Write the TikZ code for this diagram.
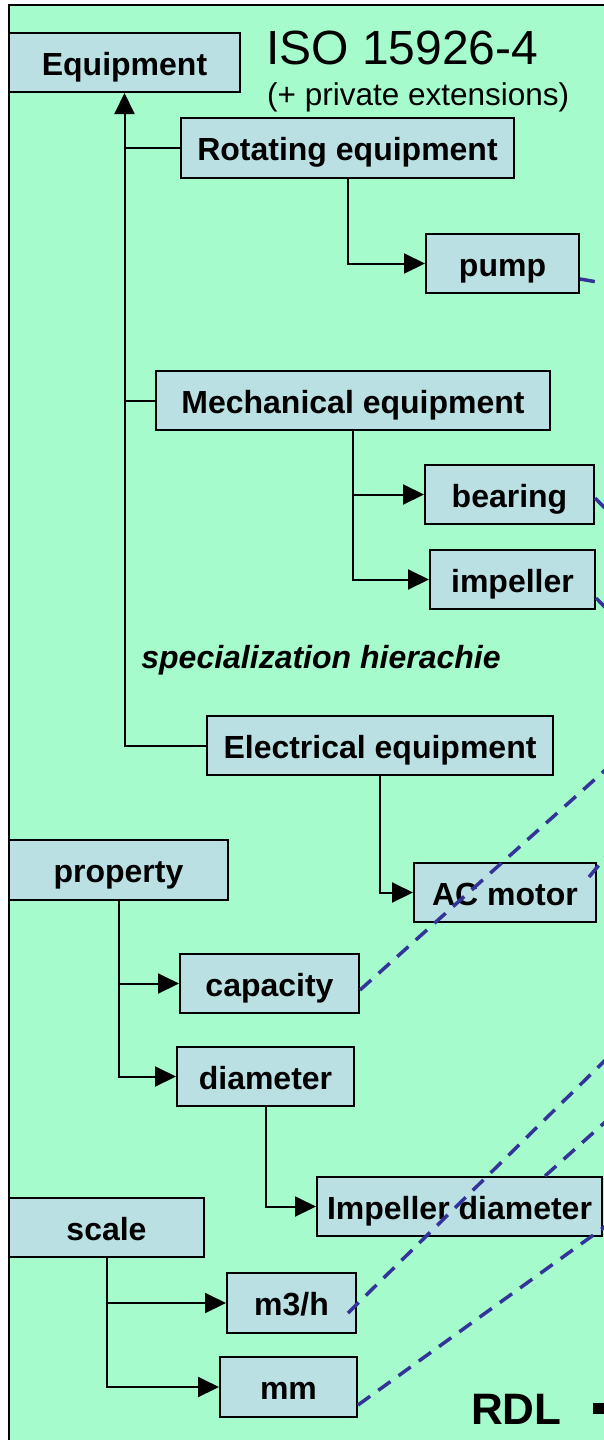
\documentclass[tikz,border=0pt]{standalone}
\usepackage{fontspec}
\setmainfont{Liberation Sans}
\usetikzlibrary{arrows.meta}
\definecolor{bggreen}{RGB}{165,251,204}
\definecolor{boxfill}{RGB}{187,224,227}
\definecolor{linkblue}{RGB}{51,51,153}
\tikzset{
  cls/.style={draw=black, line width=2pt, fill=boxfill, inner sep=0pt,
    text height=25pt, text depth=0pt,
    font=\fontsize{32}{36}\selectfont\bfseries},
  conn/.style={line width=2pt, -{Triangle[length=21pt,width=20pt]}},
  plainconn/.style={line width=2pt},
  link/.style={draw=linkblue, line width=3.5pt, dash pattern=on 15pt off 10pt},
  lbl/.style={inner sep=0pt, anchor=base west},
}
\begin{document}
\begin{tikzpicture}[x=1pt,y=-1pt]
\useasboundingbox (0,0) rectangle (604,1440);
\clip (0,0) rectangle (604,1440);
\draw[fill=bggreen, line width=2.5pt] (9,5) rectangle (640,1480);

% titles
\node[lbl, font=\fontsize{48}{54}\selectfont] (iso) at (266,64) {ISO 15926-4};
\node[lbl, font=\fontsize{31.5}{36}\selectfont] (ext) at (267,105) {(+ private extensions)};
\node[inner sep=0pt, anchor=base, font=\fontsize{32}{36}\selectfont\bfseries\itshape] (spec) at (321,668) {specialization hierachie};
\node[lbl, font=\fontsize{44}{50}\selectfont\bfseries] (rdl) at (471,1424) {RDL};

% classes
\node[cls, minimum width=231pt, minimum height=59pt] (equip) at (124.5,62.5) {Equipment};
\node[cls, minimum width=333pt, minimum height=60pt] (rot) at (347.5,148) {Rotating equipment};
\node[cls, minimum width=153pt, minimum height=59pt] (pump) at (502.5,263.5) {pump};
\node[cls, minimum width=394pt, minimum height=59pt] (mech) at (353,400.5) {Mechanical equipment};
\node[cls, minimum width=169pt, minimum height=59pt] (bearing) at (509.5,494.5) {bearing};
\node[cls, minimum width=165pt, minimum height=59pt] (impeller) at (512.5,579.5) {impeller};
\node[cls, minimum width=346pt, minimum height=59pt] (elec) at (380,745.5) {Electrical equipment};
\node[cls, minimum width=219pt, minimum height=60pt] (prop) at (118.5,870) {property};
\node[cls, minimum width=182pt, minimum height=59pt] (acmotor) at (505,892.5) {AC motor};
\node[cls, minimum width=179pt, minimum height=59pt] (capacity) at (269.5,983.5) {capacity};
\node[cls, minimum width=177pt, minimum height=59pt] (diameter) at (265.5,1076.5) {diameter};
\node[cls, minimum width=285pt, minimum height=59pt] (impdiam) at (459.5,1206.5) {Impeller diameter};
\node[cls, minimum width=195pt, minimum height=59pt] (scale) at (106.5,1227.5) {scale};
\node[cls, minimum width=129pt, minimum height=60pt] (m3h) at (291.5,1303) {m3/h};
\node[cls, minimum width=137pt, minimum height=60pt] (mm) at (288.5,1387) {mm};

% specialization connectors
\draw[conn] (elec.west) -| (equip.south);
\draw[plainconn] (rot.west) -- (rot.west -| equip.south);
\draw[plainconn] (mech.west) -- (mech.west -| equip.south);
\draw[conn] (rot.south) |- (pump.west);
\draw[conn] (mech.south) |- (bearing.west);
\draw[conn] (mech.south) |- (impeller.west);
\draw[conn] (elec.south) |- (acmotor.west);
\draw[conn] (prop.south) |- (capacity.west);
\draw[conn] (prop.south) |- (diameter.west);
\draw[conn] (diameter.south) |- (impdiam.west);
\draw[conn] (scale.south) |- (m3h.west);
\draw[conn] (scale.south) |- (mm.west);

% RDL arrow stub
\coordinate (rdlend) at (660,1406);
\draw[line width=11pt] ([xshift=31pt]rdl.east) -- (rdl.east -| rdlend);

% dashed links leaving the picture
\coordinate (pumpB) at (700,300);
\coordinate (bearB) at (700,604);
\coordinate (impB) at (700,703);
\coordinate (capB) at (700,685);
\coordinate (acB) at (700,744);
\coordinate (m3hB) at (700,967);
\coordinate (idB) at (700,1037);
\coordinate (mmB) at (700,1158);
\draw[link] ([yshift=-15.5pt]pump.east) -- (pumpB);
\draw[link] ([yshift=-3.5pt]bearing.east) -- (bearB);
\draw[link] ([yshift=-18.5pt]impeller.east) -- (impB);
\draw[link] ([yshift=-6.5pt]capacity.east) -- (capB);
\draw[link] ([xshift=-8pt,yshift=15.5pt]acmotor.east) -- (acB);
\draw[link] ([xshift=-9pt,yshift=-10pt]m3h.east) -- (m3hB);
\draw[link] ([xshift=85.5pt]impdiam.north) -- (idB);
\draw[link] ([yshift=-18pt]mm.east) -- (mmB);
\end{tikzpicture}
\end{document}
